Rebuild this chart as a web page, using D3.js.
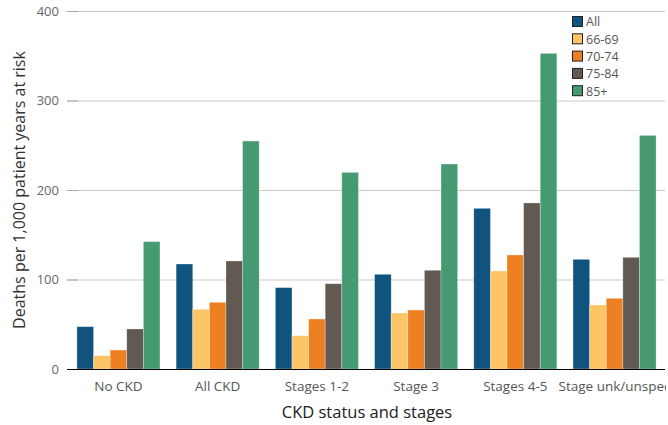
<!DOCTYPE html>
<html>
<head>
<meta charset="utf-8">
<script src="https://cdn.jsdelivr.net/npm/d3@7"></script>
<style>
  body { margin: 0; background: #fff; }
  text { font-family: "Open Sans", sans-serif; }
</style>
</head>
<body>
<div id="chart"></div>
<script>
var categories = ["No CKD", "All CKD", "Stages 1-2", "Stage 3", "Stages 4-5", "Stage unk/unspec"];
var groups = ["All", "66-69", "70-74", "75-84", "85+"];
var colors = ["#0f537e", "#fdc566", "#ec8023", "#625a52", "#469a72"];
var seriesAll   = [47.3, 117.3, 90.9, 105.8, 179.5, 122.5];
var series6669  = [14.9, 66.7, 37.2, 62.6, 109.5, 71.5];
var series7074  = [21.2, 74.5, 55.9, 65.9, 127.4, 79.0];
var series7584  = [44.7, 120.7, 95.3, 110.3, 185.5, 124.8];
var series85    = [142.3, 254.7, 219.7, 229.0, 352.7, 261.0];
var yTicks = [0, 100, 200, 300, 400];

var series = [seriesAll, series6669, series7074, series7584, series85];

var width = 668, height = 425,
    plotLeft = 67, plotRight = 665, plotTop = 11, plotBottom = 369;

var svg = d3.select("#chart").append("svg")
  .attr("width", width)
  .attr("height", height);

svg.append("defs").append("clipPath").attr("id", "clip")
  .append("rect").attr("x", 0).attr("y", 0).attr("width", plotRight + 1).attr("height", height);

var g = svg.append("g").attr("clip-path", "url(#clip)");

var x0 = d3.scaleBand()
  .domain(categories)
  .range([plotLeft, 666])
  .paddingInner(0.163)
  .paddingOuter(0.1);

var x1 = d3.scaleBand()
  .domain(groups)
  .range([0, x0.bandwidth()]);

var y = d3.scaleLinear().domain([0, 400]).range([plotBottom, plotTop]);

// gridlines
g.selectAll(".grid")
  .data(yTicks.filter(function(d){ return d > 0; }))
  .enter().append("line")
  .attr("x1", plotLeft).attr("x2", plotRight)
  .attr("y1", function(d){ return y(d) + 0.5; })
  .attr("y2", function(d){ return y(d) + 0.5; })
  .style("stroke", "#cdc9c5");

// tick marks
g.selectAll(".tk")
  .data(yTicks.filter(function(d){ return d > 0; }))
  .enter().append("line")
  .attr("x1", plotLeft).attr("x2", plotLeft + 11)
  .attr("y1", function(d){ return y(d) + 0.5; })
  .attr("y2", function(d){ return y(d) + 0.5; })
  .style("stroke", "#a8a29c");

// y labels
g.selectAll(".ylab")
  .data(yTicks)
  .enter().append("text")
  .attr("x", 59)
  .attr("y", function(d){ return y(d); })
  .attr("dy", "0.35em")
  .attr("text-anchor", "end")
  .style("font-size", "13px")
  .style("fill", "#666")
  .text(function(d){ return d; });

// bars
var bar = g.selectAll(".cat")
  .data(categories)
  .enter().append("g")
  .attr("transform", function(d){ return "translate(" + x0(d) + ",0)"; });

bar.selectAll("rect")
  .data(function(d, i){
    return groups.map(function(k, j){ return {key: k, value: series[j][i], color: colors[j]}; });
  })
  .enter().append("rect")
  .attr("x", function(d){ return x1(d.key); })
  .attr("width", x1.bandwidth())
  .attr("y", function(d){ return y(d.value); })
  .attr("height", function(d){ return plotBottom - y(d.value); })
  .attr("fill", function(d){ return d.color; })
  .style("stroke", "#fff")
  .style("stroke-opacity", 0.35)
  .style("stroke-width", 0.8);

// baseline
g.append("line")
  .attr("x1", plotLeft).attr("x2", plotRight)
  .attr("y1", plotBottom + 0.5).attr("y2", plotBottom + 0.5)
  .style("stroke", "#000")
  .style("stroke-width", 1.2);

// category labels
g.selectAll(".xlab")
  .data(categories)
  .enter().append("text")
  .attr("x", function(d){ return x0(d) + x0.bandwidth() / 2; })
  .attr("y", 391)
  .attr("text-anchor", "middle")
  .style("font-size", "13.5px")
  .style("fill", "#555")
  .text(function(d){ return d; });

// axis titles
svg.append("text")
  .attr("x", 367).attr("y", 418)
  .attr("text-anchor", "middle")
  .style("font-size", "16.5px")
  .style("fill", "#222")
  .text("CKD status and stages");

svg.append("text")
  .attr("transform", "translate(25,190) rotate(-90)")
  .attr("text-anchor", "middle")
  .style("font-size", "16px")
  .style("fill", "#333")
  .text("Deaths per 1,000 patient years at risk");

// legend
var legend = svg.selectAll(".leg")
  .data(groups)
  .enter().append("g")
  .attr("transform", function(d, i){ return "translate(572," + (16 + i * 17.3) + ")"; });

legend.append("rect")
  .attr("x", 0.5).attr("y", 0.5)
  .attr("width", 10).attr("height", 10)
  .attr("fill", function(d, i){ return colors[i]; })
  .style("stroke", "#222")
  .style("stroke-width", 1);

legend.append("text")
  .attr("x", 14).attr("y", 6)
  .attr("dy", "0.35em")
  .style("font-size", "12.5px")
  .style("fill", "#555")
  .text(function(d){ return d; });
</script>
</body>
</html>
